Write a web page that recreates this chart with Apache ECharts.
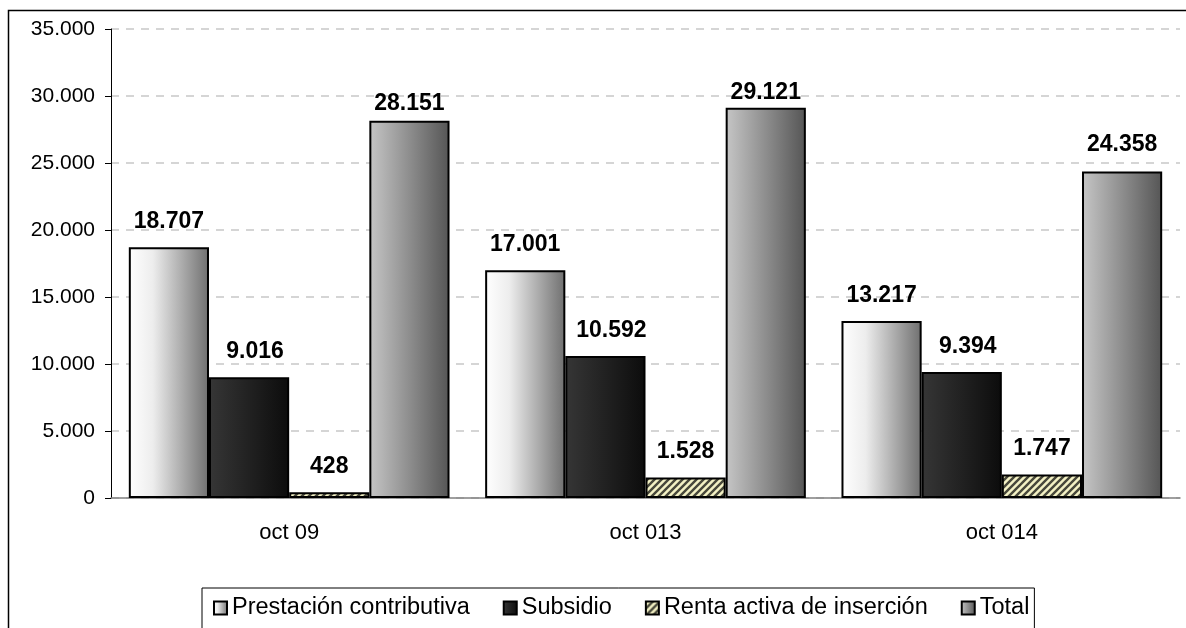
<!DOCTYPE html>
<html>
<head>
<meta charset="utf-8">
<script src="https://cdn.jsdelivr.net/npm/echarts@6/dist/echarts.min.js"></script>
<style>
  html, body { margin: 0; padding: 0; background: #fff; }
  #chart { width: 1186px; height: 628px; }
</style>
</head>
<body>
<div id="chart"></div>
<script>
const categories = ['oct 09', 'oct 013', 'oct 014'];
const prestacion = [18707, 17001, 13217];
const subsidio = [9016, 10592, 9394];
const renta = [428, 1528, 1747];
const total = [28151, 29121, 24358];

const FONT = '"Liberation Sans", Arial, sans-serif';

// label distance above the Total bars differs per group in the original
const totalLabelDist = [6, 4, 15];

function fmt(v) {
    return String(v).replace(/\B(?=(\d{3})+(?!\d))/g, '.');
}

// hatched fill for "Renta activa de inserción"
function hatch() {
    const c = document.createElement('canvas');
    c.width = 7;
    c.height = 7;
    const ctx = c.getContext('2d');
    ctx.fillStyle = '#f3f1c4';
    ctx.fillRect(0, 0, 7, 7);
    ctx.strokeStyle = '#47473a';
    ctx.lineWidth = 2.4;
    ctx.beginPath();
    ctx.moveTo(-3.5, 3.5); ctx.lineTo(3.5, -3.5);
    ctx.moveTo(0, 7); ctx.lineTo(7, 0);
    ctx.moveTo(3.5, 10.5); ctx.lineTo(10.5, 3.5);
    ctx.stroke();
    return c;
}

function hGrad(stops) {
    return new echarts.graphic.LinearGradient(0, 0, 1, 0,
        stops.map(s => ({ offset: s[0], color: s[1] })));
}

const labelBase = {
    show: true,
    position: 'top',
    distance: 14,
    fontFamily: FONT,
    fontSize: 23,
    fontWeight: 'bold',
    color: '#000',
    formatter: p => fmt(p.value)
};

const border = { borderColor: '#000', borderWidth: 2 };

const chart = echarts.init(document.getElementById('chart'));

const option = {
    animation: false,
    backgroundColor: '#fff',
    textStyle: { fontFamily: FONT },
    graphic: [
        {
            type: 'rect',
            shape: { x: 8.5, y: 10.5, width: 1300, height: 800 },
            style: { fill: null, stroke: '#000', lineWidth: 1.5 },
            silent: true
        }
    ],
    grid: {
        left: 111,
        right: 6,
        top: 29,
        bottom: 130
    },
    legend: {
        left: 202,
        top: 588,
        icon: 'rect',
        itemWidth: 13,
        itemHeight: 13,
        itemGap: 33,
        padding: [8, 5, 60, 11],
        borderColor: '#000',
        borderWidth: 1,
        textStyle: { fontFamily: FONT, fontSize: 23.5, color: '#000' },
        data: ['Prestación contributiva', 'Subsidio', 'Renta activa de inserción', 'Total']
    },
    xAxis: {
        type: 'category',
        data: categories,
        axisLine: { lineStyle: { color: '#808080', width: 1.5 } },
        axisTick: { length: 8, lineStyle: { color: '#000' } },
        axisLabel: { fontFamily: FONT, fontSize: 22, color: '#000', margin: 24 }
    },
    yAxis: {
        type: 'value',
        min: 0,
        max: 35000,
        interval: 5000,
        axisLine: { show: true, lineStyle: { color: '#000' } },
        axisTick: { show: true, length: 6, lineStyle: { color: '#000' } },
        axisLabel: {
            fontFamily: FONT,
            fontSize: 21,
            color: '#000',
            margin: 16,
            formatter: v => fmt(v)
        },
        splitLine: {
            lineStyle: { color: '#c8c8c8', type: [8, 7], width: 1.5 }
        }
    },
    series: [
        {
            name: 'Prestación contributiva',
            type: 'bar',
            barGap: 0,
            barCategoryGap: '10%',
            data: prestacion,
            itemStyle: Object.assign({
                color: hGrad([[0, '#ffffff'], [0.3, '#ededed'], [1, '#6f6f6f']])
            }, border),
            label: labelBase
        },
        {
            name: 'Subsidio',
            type: 'bar',
            data: subsidio,
            itemStyle: Object.assign({
                color: hGrad([[0, '#363636'], [1, '#0c0c0c']])
            }, border),
            label: Object.assign({}, labelBase, { offset: [6, 0] })
        },
        {
            name: 'Renta activa de inserción',
            type: 'bar',
            data: renta,
            itemStyle: Object.assign({
                color: { image: hatch(), repeat: 'repeat' }
            }, border),
            label: labelBase
        },
        {
            name: 'Total',
            type: 'bar',
            data: total.map((v, i) => ({ value: v, label: { distance: totalLabelDist[i] } })),
            itemStyle: Object.assign({
                color: hGrad([[0, '#c6c6c6'], [1, '#555555']])
            }, border),
            label: labelBase
        }
    ]
};

chart.setOption(option);
</script>
</body>
</html>
